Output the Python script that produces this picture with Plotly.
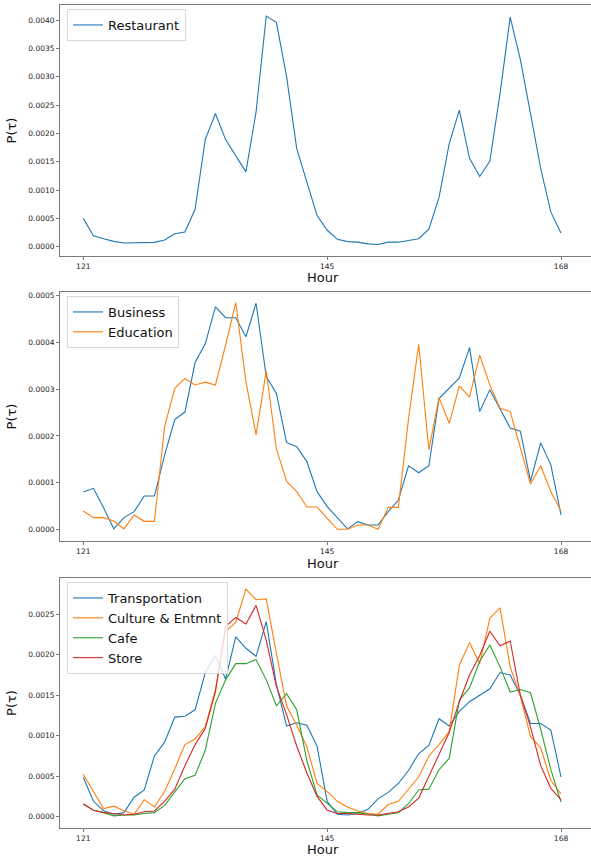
import plotly.graph_objects as go

hours = list(range(121, 169))

restaurant = [0.0005, 0.000194, 0.000141, 0.000094, 0.000065, 0.000065, 0.00007, 0.000076, 0.00012, 0.00023,
              0.00026, 0.00066, 0.00189, 0.00235, 0.00189, 0.00161, 0.00132, 0.00238, 0.00407, 0.00396,
              0.0030, 0.00173, 0.00115, 0.00055, 0.00029, 0.00013, 0.00009, 0.00008, 0.00005, 0.00004,
              0.00008, 0.00008, 0.00011, 0.00014, 0.00031, 0.00087, 0.00182, 0.00241, 0.00156, 0.00124,
              0.00151, 0.0027, 0.00405, 0.0033, 0.00235, 0.00138, 0.00061, 0.00024]

business = [0.00008, 0.0000877, 0.000046, 0.000001, 0.000025, 0.0000378, 0.0000713, 0.0000713, 0.000159, 0.000235,
            0.000251, 0.000357, 0.000397, 0.000476, 0.000453, 0.000453, 0.000412, 0.000484, 0.000327, 0.000291,
            0.000186, 0.000177, 0.000145, 0.0000806, 0.0000485, 0.000025, 0.000001, 0.0000164, 0.0000093, 0.0000093,
            0.0000378, 0.0000627, 0.000136, 0.000121, 0.000136, 0.00028, 0.000302, 0.000324, 0.000389, 0.000252,
            0.000299, 0.000259, 0.000217, 0.00021, 0.000103, 0.000185, 0.000138, 0.0000307]

education = [0.0000392, 0.000025, 0.000025, 0.0000178, 0.000001, 0.0000307, 0.0000171, 0.0000171, 0.00022, 0.000302,
             0.000323, 0.000309, 0.000315, 0.000309, 0.000394, 0.000485, 0.000316, 0.000202, 0.000339, 0.000172,
             0.000103, 0.0000806, 0.0000478, 0.0000478, 0.0000235, 0.0, 0.0, 0.0000093, 0.0000093, 0.0,
             0.000047, 0.000047, 0.000237, 0.000396, 0.00017, 0.000282, 0.000227, 0.000307, 0.000283, 0.000373,
             0.000309, 0.000259, 0.000252, 0.000173, 0.000097, 0.000136, 0.0000806, 0.0000392]

transportation = [0.000486, 0.00019, 0.000074, 0.00003, 0.00005, 0.00024, 0.00033, 0.00075, 0.00092, 0.00123,
                  0.00124, 0.00132, 0.00178, 0.00199, 0.0017, 0.00222, 0.00208, 0.00198, 0.00241, 0.00163,
                  0.00112, 0.00116, 0.00113, 0.00087, 0.000185, 0.00003, 0.00002, 0.00004, 0.00009, 0.00022,
                  0.0003, 0.00041, 0.00057, 0.00078, 0.00088, 0.00121, 0.00112, 0.0013, 0.00142, 0.0015,
                  0.00158, 0.00178, 0.00175, 0.0015, 0.00115, 0.00115, 0.00107, 0.00049]

culture = [0.00052, 0.00031, 0.0001, 0.00013, 0.000074, 0.00003, 0.00021, 0.00012, 0.00031, 0.00059,
           0.00089, 0.00096, 0.00111, 0.00157, 0.00229, 0.0024, 0.00281, 0.00268, 0.00269, 0.00202,
           0.00137, 0.00113, 0.00086, 0.00041, 0.00031, 0.00019, 0.00012, 0.00007, 0.00004, 0.00003,
           0.00015, 0.00019, 0.00034, 0.00049, 0.00075, 0.00089, 0.00105, 0.00187, 0.00215, 0.00189,
           0.00245, 0.00258, 0.00185, 0.00149, 0.00099, 0.00085, 0.00045, 0.00028]

cafe = [0.000157, 0.00008, 0.00005, 0.00001, 0.00002, 0.00002, 0.00004, 0.00005, 0.00014, 0.00031,
        0.00047, 0.00051, 0.00082, 0.0014, 0.00169, 0.00189, 0.00189, 0.00194, 0.00169, 0.00137,
        0.00152, 0.00132, 0.00069, 0.00027, 0.00016, 0.00006, 0.00005, 0.00005, 0.00003, 0.00001,
        0.00003, 0.00005, 0.00016, 0.00033, 0.00034, 0.00058, 0.00072, 0.00144, 0.00159, 0.00192,
        0.00212, 0.00185, 0.00154, 0.00157, 0.00153, 0.00108, 0.00058, 0.00018]

store = [0.000157, 0.00008, 0.00005, 0.00004, 0.00002, 0.00003, 0.00006, 0.00007, 0.00019, 0.00034,
         0.00063, 0.00089, 0.00109, 0.00154, 0.00235, 0.00246, 0.00238, 0.00261, 0.00218, 0.00161,
         0.00126, 0.00087, 0.00054, 0.00025, 0.00008, 0.00004, 0.00004, 0.00003, 0.00002, 0.00002,
         0.00004, 0.00006, 0.00012, 0.00023, 0.0005, 0.00077, 0.00104, 0.00142, 0.00175, 0.00199,
         0.00229, 0.00211, 0.00217, 0.0015, 0.00111, 0.00063, 0.00035, 0.00021]

x_ticks = [121, 145, 168]

C_BLUE, C_ORANGE, C_GREEN, C_RED = "#1f77b4", "#ff7f0e", "#2ca02c", "#d62728"

W, H = 591, 858
FONT = "DejaVu Sans"

def dom(top, bottom):
    return [1 - bottom / H, 1 - top / H]

panels = [
    dict(top=5, bottom=256, xlab=277.5, yrange=[-0.000164, 0.004265], dtick=0.0005,
         series=[("Restaurant", restaurant, C_BLUE)]),
    dict(top=292, bottom=541, xlab=563.5, yrange=[-0.000025, 0.000508], dtick=0.0001,
         series=[("Business", business, C_BLUE), ("Education", education, C_ORANGE)]),
    dict(top=578, bottom=828, xlab=849.5, yrange=[-0.00014, 0.002948], dtick=0.0005,
         series=[("Transportation", transportation, C_BLUE), ("Culture & Entmnt", culture, C_ORANGE),
                 ("Cafe", cafe, C_GREEN), ("Store", store, C_RED)]),
]

fig = go.Figure()
layout = dict(
    width=W, height=H,
    margin=dict(l=60, r=0, t=0, b=0),
    paper_bgcolor="white", plot_bgcolor="white",
    font=dict(family=FONT, color="#222"),
)
annotations = []

AX = "#7a7a7a"
for i, p in enumerate(panels):
    n = "" if i == 0 else str(i + 1)
    leg = "legend" if i == 0 else f"legend{i + 1}"
    for name, vals, col in p["series"]:
        fig.add_trace(go.Scatter(x=hours, y=vals, mode="lines", name=name, showlegend=True,
                                 line=dict(color=col, width=1.1),
                                 xaxis="x" + n, yaxis="y" + n, legend=leg))
    d = dom(p["top"], p["bottom"])
    layout["xaxis" + n] = dict(
        domain=[0, 1], anchor="y" + n, range=[118.71, 170.95],
        tickmode="array", tickvals=x_ticks, ticktext=[str(t) for t in x_ticks],
        ticks="outside", ticklen=3, tickwidth=1, tickcolor=AX,
        showline=True, linecolor=AX, linewidth=1, mirror=True,
        showgrid=False, zeroline=False,
        tickfont=dict(size=7.5, color="#222", family=FONT),
        automargin=False,
    )
    layout["yaxis" + n] = dict(
        domain=d, anchor="x" + n, range=p["yrange"],
        tick0=0, dtick=p["dtick"], tickformat=".4f",
        ticks="outside", ticklen=3, tickwidth=1, tickcolor=AX,
        showline=True, linecolor=AX, linewidth=1, mirror=True,
        showgrid=False, zeroline=False,
        tickfont=dict(size=7.5, color="#222", family=FONT),
        title=dict(text="P(τ)", font=dict(size=13, color="#111", family=FONT), standoff=8),
        automargin=False,
    )
    annotations.append(dict(
        text="Hour", xref="x" + n + " domain", x=(323 - 60) / 531,
        yref="paper", y=1 - p["xlab"] / H, xanchor="center", yanchor="middle",
        showarrow=False, font=dict(size=13, color="#111", family=FONT)))
    layout[leg] = dict(
        x=7 / 531, y=1 - (p["top"] + 4) / H, xref="paper", yref="paper",
        xanchor="left", yanchor="top",
        bgcolor="rgba(255,255,255,0.8)", bordercolor="#d8d8d8", borderwidth=1,
        font=dict(size=13, color="#111", family=FONT),
        tracegroupgap=0,
    )

layout["annotations"] = annotations
fig.update_layout(**layout)
fig.write_html("out.html", config={"displayModeBar": False},
               post_script="document.body.style.margin='0';document.body.style.padding='0';")
